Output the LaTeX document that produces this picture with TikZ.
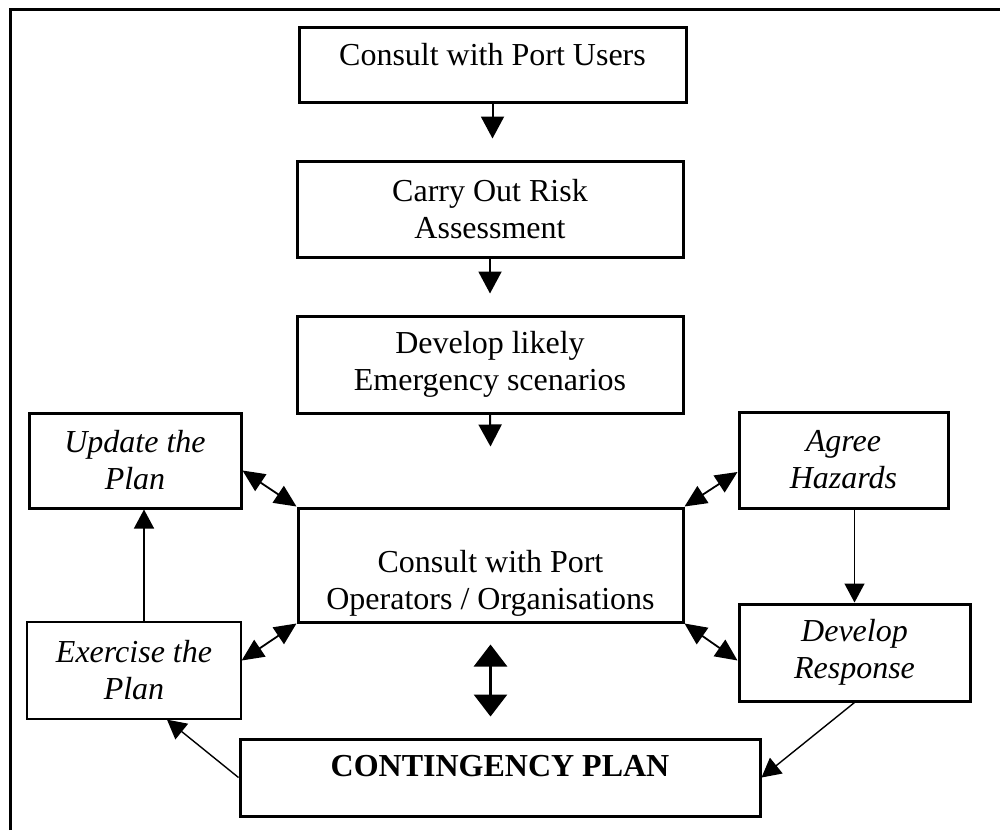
\documentclass[tikz,border=0pt]{standalone}
\usepackage{fontspec}
\setmainfont{Liberation Serif}
\usetikzlibrary{arrows.meta,calc}
\begin{document}
\begin{tikzpicture}[x=1pt,y=-1pt,
  box/.style={draw, line width=3pt, rectangle, inner sep=0pt},
  thinbox/.style={draw, line width=1.3pt, rectangle, inner sep=0pt},
  lbl/.style={align=center, inner sep=0pt, font=\fontsize{32}{37}\selectfont},
  ilbl/.style={align=center, inner sep=0pt, font=\fontsize{32}{37}\selectfont\itshape},
  blbl/.style={align=center, inner sep=0pt, font=\fontsize{32}{37}\selectfont\bfseries},
  flow/.style={line width=2pt, -{Triangle[width=23pt,length=22pt]}},
  link/.style={line width=1.8pt, {Triangle[width=20pt,length=22pt]}-{Triangle[width=20pt,length=22pt]}},
  feed/.style={line width=1.4pt, -{Triangle[width=20pt,length=19pt]}},
  big/.style={line width=3pt, {Triangle[width=33pt,length=22pt]}-{Triangle[width=33pt,length=22pt]}}
]
\useasboundingbox (0,0) rectangle (1000,830);
% outer frame (left and top edges)
\draw[line width=3pt] (10,830) -- (10,9) -- (1000,9);

% main column
\node[box, minimum width=387pt, minimum height=75pt] (users) at (492.5,64.5) {};
\node[lbl] (usersT) at ([yshift=10pt]users.center) {Consult with Port Users};

\node[box, minimum width=386pt, minimum height=96pt] (risk) at (490,209) {};
\node[lbl] (riskT) at (risk.center) {Carry Out Risk\\Assessment};

\node[box, minimum width=386pt, minimum height=97pt] (scen) at (490,364.5) {};
\node[lbl] (scenT) at (scen.center) {Develop likely\\Emergency scenarios};

\node[box, minimum width=385pt, minimum height=114pt] (ops) at (490.5,565) {};
\node[lbl] (opsT) at ([yshift=-18pt]ops.center) {Consult with Port\\Operators / Organisations};

\node[box, minimum width=520pt, minimum height=77pt] (plan) at (500,777.5) {};
\node[blbl] (planT) at ([yshift=11pt]plan.center) {CONTINGENCY PLAN};

% side boxes
\node[box, minimum width=212pt, minimum height=95pt] (upd) at (135,460.5) {};
\node[ilbl] (updT) at (upd.center) {Update the\\Plan};

\node[box, minimum width=209pt, minimum height=96pt] (agree) at (843.5,460) {};
\node[ilbl] (agreeT) at (agree.center) {Agree\\Hazards};

\node[thinbox, minimum width=214pt, minimum height=97pt] (exer) at (134,670.5) {};
\node[ilbl] (exerT) at (exer.center) {Exercise the\\Plan};

\node[box, minimum width=231pt, minimum height=97pt] (resp) at (854.5,652.5) {};
\node[ilbl] (respT) at (resp.center) {Develop\\Response};

% downward flow
\draw[flow] (users.south) -- ($(users.south |- risk.north)+(0,-21)$);
\draw[flow] (risk.south) -- ($(scen.north)+(0,-21)$);
\draw[flow] (scen.south) -- ($(ops.north)+(0,-60)$);

% two-way links with the consultation box
\draw[link] ($(upd.east)+(0,10)$) -- (ops.north west);
\draw[link] ($(agree.west)+(0,12)$) -- (ops.north east);
\draw[link] ($(exer.east)+(0,-10)$) -- (ops.south west);
\draw[link] ($(resp.west)+(0,8)$) -- (ops.south east);

% review cycle
\draw[feed] (agree.south -| resp.north) -- (resp.north);
\draw[feed] (resp.south) -- (plan.east);
\draw[feed] (plan.west) -- ($(exer.south)+(33,0)$);
\draw[feed] ($(exer.north)+(10,0)$) -- ($(exer.north |- upd.south)+(10,0)$);

% consultation <-> plan
\draw[big] ($(ops.south)+(0,21)$) -- ($(ops.south |- plan.north)+(0,-21)$);
\end{tikzpicture}
\end{document}
